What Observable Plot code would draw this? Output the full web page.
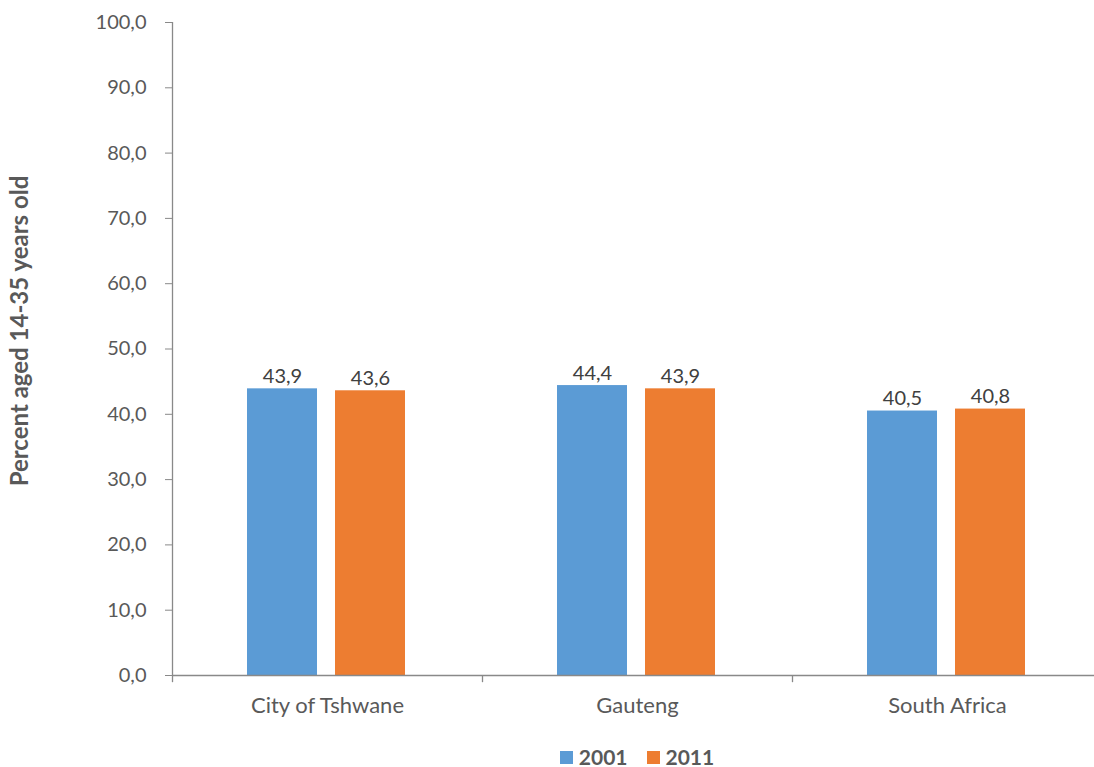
<!DOCTYPE html>
<html>
<head>
<meta charset="utf-8">
<script src="https://cdn.jsdelivr.net/npm/d3@7"></script>
<script src="https://cdn.jsdelivr.net/npm/@observablehq/plot@0.6"></script>
<style>
  html, body { margin: 0; padding: 0; background: #fff; overflow: hidden; }
  #chart { width: 1102px; height: 740px; overflow: hidden; }
  #chart svg { max-width: none !important; }
  #legend { display: flex; justify-content: center; gap: 19px; margin-left: 172px; width: 930px;
    padding-top: 7px; font-family: Lato, "Open Sans", sans-serif; font-weight: bold; font-size: 21px; color: #595959; }
  #legend .item { display: flex; align-items: center; gap: 6px; line-height: 20px; }
  #legend .sw { width: 13px; height: 13px; display: inline-block; }
</style>
</head>
<body>
<div id="chart"></div>
<div id="legend"></div>
<script>
const categories = ["City of Tshwane", "Gauteng", "South Africa"];
const years = ["2001", "2011"];
const v2001 = [43.9, 44.4, 40.5];
const v2011 = [43.6, 43.9, 40.8];
const yTicks = [0, 10, 20, 30, 40, 50, 60, 70, 80, 90, 100];
const yLabel = "Percent aged 14-35 years old";
const colors = ["#5B9BD5", "#ED7D31"];

const d2001 = categories.map((c, i) => ({category: c, year: "2001", value: v2001[i]}));
const d2011 = categories.map((c, i) => ({category: c, year: "2011", value: v2011[i]}));
const fmt = d => d.toFixed(1).replace(".", ",");

const axisColor = "#898989";
const bandHalf = 155;

const chart = Plot.plot({
  width: 1102,
  height: 740,
  marginLeft: 172,
  marginRight: 0,
  marginTop: 22,
  marginBottom: 65,
  style: {fontFamily: "Lato, 'Open Sans', sans-serif", fontSize: "20px", color: "#595959", background: "#fff", maxWidth: "none"},
  x: {domain: categories, padding: 0, label: null},
  y: {domain: [0, 100], label: null},
  marks: [
    Plot.barY(d2001, {x: "category", y: "value", fill: colors[0], insetLeft: 75, insetRight: 165}),
    Plot.barY(d2011, {x: "category", y: "value", fill: colors[1], insetLeft: 163, insetRight: 77}),
    Plot.text(d2001, {x: "category", y: "value", text: d => fmt(d.value), dx: -45, dy: -12, fill: "#404040", fontSize: 20}),
    Plot.text(d2011, {x: "category", y: "value", text: d => fmt(d.value), dx: 43, dy: -12, fill: "#404040", fontSize: 20}),
    Plot.ruleY([0], {stroke: axisColor, strokeWidth: 1.3}),
    Plot.ruleX([categories[0]], {dx: -bandHalf, y1: 0, y2: 100, stroke: axisColor, strokeWidth: 1.3}),
    Plot.ruleX(categories, {dx: -bandHalf, y1: 0, y2: -1.1, stroke: axisColor, strokeWidth: 1.3}),
    Plot.axisY({ticks: yTicks, tickFormat: fmt, tickSize: 7, tickPadding: 19, stroke: axisColor, fill: "#595959", fontSize: 20, label: null}),
    Plot.axisX({tickSize: 0, tickPadding: 22, fill: "#595959", fontSize: 22, label: null}),
    Plot.text([yLabel], {frameAnchor: "left", textAnchor: "middle", rotate: -90, dx: -152, dy: -18, fontWeight: "bold", fontSize: 24, fill: "#595959"})
  ]
});
document.getElementById("chart").appendChild(chart);

const legend = document.getElementById("legend");
years.forEach((y, i) => {
  const item = document.createElement("div");
  item.className = "item";
  const sw = document.createElement("span");
  sw.className = "sw";
  sw.style.background = colors[i];
  const t = document.createElement("span");
  t.textContent = y;
  item.appendChild(sw);
  item.appendChild(t);
  legend.appendChild(item);
});
</script>
</body>
</html>
